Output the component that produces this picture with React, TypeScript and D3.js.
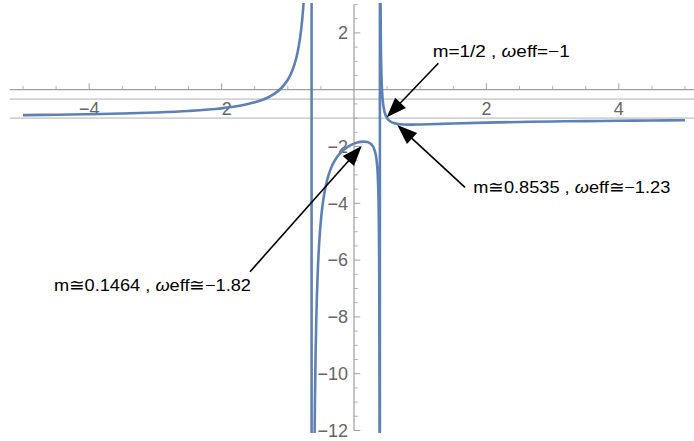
import React from "react";
import * as d3 from "d3";

// ---- data ----
const mValues = [
  -5, -4.5, -4, -3.5, -3, -2.5, -2, -1.75, -1.5, -1.3, -1.2, -1.1, -1.0, -0.95, -0.9, -0.85, -0.8, -0.78, -0.77, -0.76,
  -0.75, -0.72, -0.7, -0.68, -0.66, -0.65, -0.642,
  -0.639, -0.635, -0.63, -0.62, -0.61, -0.6, -0.59, -0.58, -0.57, -0.56, -0.55, -0.53, -0.52, -0.5, -0.475, -0.45,
  -0.4, -0.35, -0.3, -0.25, -0.2, -0.15, -0.1, -0.05, 0, 0.05, 0.1, 0.15, 0.2, 0.25, 0.26, 0.28, 0.3, 0.32, 0.33,
  0.34, 0.35, 0.355, 0.36, 0.365, 0.37, 0.375, 0.38, 0.385, 0.388, 0.3895,
  0.392, 0.395, 0.3975, 0.4, 0.405, 0.41, 0.415, 0.42, 0.425, 0.43, 0.435, 0.44, 0.45, 0.46, 0.47, 0.48, 0.5, 0.52,
  0.55, 0.6, 0.65, 0.7, 0.8, 0.8535, 0.9, 1.0, 1.25, 1.5, 2, 2.5, 3, 3.5, 4, 4.5, 5,
];
const weffValues = [
  -0.895, -0.881, -0.863, -0.838, -0.803, -0.749, -0.654, -0.574, -0.446, -0.274, -0.14, 0.051, 0.35, 0.572, 0.881,
  1.337, 2.079, 2.525, 2.8, 3.121,
  3.5, 5.21, 7.31, 11.5, 24.3, 50.7, 307.8,
  -359.7, -93.4, -48.97, -25.47, -17.43, -13.375, -10.93, -9.29, -8.12, -7.24, -6.56, -5.56, -5.19, -4.6, -4.066,
  -3.672, -3.132, -2.779, -2.532, -2.35, -2.212, -2.104, -2.019, -1.952, -1.9, -1.862, -1.837, -1.829, -1.844, -1.9,
  -1.92, -1.974, -2.059, -2.198, -2.305,
  -2.457, -2.688, -2.852, -3.072, -3.38, -3.84, -4.6, -6.094, -10.37, -21.52, -55.3,
  28.2, 8.9, 5.25, 3.5, 1.799, 0.966, 0.473, 0.146, -0.085, -0.257, -0.39, -0.496, -0.654, -0.765, -0.847, -0.91, -1,
  -1.06, -1.118, -1.173, -1.201, -1.217, -1.229, -1.23, -1.229, -1.225, -1.208, -1.189, -1.159, -1.136, -1.118,
  -1.105, -1.094, -1.085, -1.078,
];
const gridLevels = [-1 / 3, -1];
const xMajorTicks = [-4, -2, 2, 4];
const xTickLabels = ["\u22124", "\u22122", "2", "4"];
const yMajorTicks = [2, -2, -4, -6, -8, -10, -12];
const yTickLabels = ["2", "\u22122", "\u22124", "\u22126", "\u22128", "\u221210", "\u221212"];
const annotationPrefix = ["m=1/2 , ", "m\u22450.8535 , ", "m\u22450.1464 , "];
const annotationSuffix = ["eff=\u22121", "eff\u2245\u22121.23", "eff\u2245\u22121.82"];
// tip / tail / text anchor in data coordinates
const annotationTips = [[0.494, -0.972], [0.654, -1.243], [0.116, -1.982]];
const annotationTails = [[1.274, 0.93], [1.677, -3.437], [-1.571, -6.408]];
const annotationTextAt = [[1.189, 1.162], [1.802, -3.637], [-4.532, -7.077]];
const annotationTextWidth = [137, 197, 197];

const W = 694;
const H = 441;
const FONT = "'Liberation Sans', Arial, sans-serif";

export default function App() {
  const x = d3.scaleLinear().domain([-5.2, 5.2]).range([354 - 5.2 * 66.2, 354 + 5.2 * 66.2]);
  const y = d3.scaleLinear().domain([-12, 3]).range([430.5, 4.5]);

  const pts: [number, number][] = mValues.map((m, i) => [m, weffValues[i]]);
  const line = d3
    .line<[number, number]>()
    .x((d) => x(d[0]))
    .y((d) => y(d[1]))
    .curve(d3.curveMonotoneX);

  const minorX = d3.range(-10, 11).map((k) => k * 0.5).filter((v) => v !== 0 && !xMajorTicks.includes(v));
  const minorY = d3.range(-24, 7).map((k) => k * 0.5).filter((v) => v !== 0 && !yMajorTicks.includes(v));

  const axisColor = "#a0a0a0";
  const labelColor = "#666666";

  const arrow = (i: number) => {
    const [tx, ty] = [x(annotationTips[i][0]), y(annotationTips[i][1])];
    const [sx, sy] = [x(annotationTails[i][0]), y(annotationTails[i][1])];
    const dx = tx - sx, dy = ty - sy;
    const len = Math.hypot(dx, dy);
    const ux = dx / len, uy = dy / len;
    const hl = 20, hw = 7.5;
    const bx = tx - ux * hl, by = ty - uy * hl;
    const px = -uy, py = ux;
    const head = `M${tx},${ty}L${bx + px * hw},${by + py * hw}L${bx - px * hw},${by - py * hw}Z`;
    return (
      <g key={"a" + i}>
        <line x1={sx} y1={sy} x2={bx + ux * 2} y2={by + uy * 2} stroke="#000" strokeWidth={1.6} />
        <path d={head} fill="#000" />
      </g>
    );
  };

  return (
    <svg
      width={W}
      height={H}
      style={{ position: "absolute", left: 0, top: 0, background: "#fff" }}
      fontFamily={FONT}
    >
      <defs>
        <clipPath id="plotClip">
          <rect x={x(-5.2)} y={3} width={W - x(-5.2)} height={430} />
        </clipPath>
      </defs>
      <rect width={W} height={H} fill="#fff" />
      {gridLevels.map((g) => (
        <line key={"g" + g} x1={x(-5.2)} x2={W} y1={y(g)} y2={y(g)} stroke="#d2d2d2" strokeWidth={1.6} />
      ))}
      {/* axes */}
      <line x1={x(-5.2)} x2={W} y1={y(0)} y2={y(0)} stroke={axisColor} strokeWidth={1.2} />
      <line x1={x(0)} x2={x(0)} y1={y(3)} y2={y(-12)} stroke={axisColor} strokeWidth={1.2} />
      {xMajorTicks.map((t) => (
        <line key={"xt" + t} x1={x(t)} x2={x(t)} y1={y(0)} y2={y(0) - 6.3} stroke={axisColor} strokeWidth={1} />
      ))}
      {minorX.map((t) => (
        <line key={"xm" + t} x1={x(t)} x2={x(t)} y1={y(0)} y2={y(0) - 3.8} stroke={axisColor} strokeWidth={0.8} />
      ))}
      {yMajorTicks.map((t) => (
        <line key={"yt" + t} x1={x(0)} x2={x(0) + 6.3} y1={y(t)} y2={y(t)} stroke={axisColor} strokeWidth={1} />
      ))}
      {minorY.map((t) => (
        <line key={"ym" + t} x1={x(0)} x2={x(0) + 3.8} y1={y(t)} y2={y(t)} stroke={axisColor} strokeWidth={0.8} />
      ))}
      {xMajorTicks.map((t, i) => (
        <text key={"xl" + t} x={x(t)} y={y(0) + 25.5} textAnchor="middle" fontSize={18} fill={labelColor}>
          {xTickLabels[i]}
        </text>
      ))}
      {yMajorTicks.map((t, i) => (
        <text key={"yl" + t} x={x(0) - 6} y={y(t) + 6.3} textAnchor="end" fontSize={18} fill={labelColor}>
          {yTickLabels[i]}
        </text>
      ))}
      <path
        d={line(pts) || ""}
        fill="none"
        stroke="#5e81b5"
        strokeWidth={2.6}
        clipPath="url(#plotClip)"
        strokeLinejoin="round"
      />
      {annotationTips.map((_, i) => arrow(i))}
      {annotationPrefix.map((p, i) => (
        <text
          key={"t" + i}
          x={x(annotationTextAt[i][0])}
          y={y(annotationTextAt[i][1])}
          fontSize={16.5}
          fill="#000"
          textLength={annotationTextWidth[i]}
          lengthAdjust="spacingAndGlyphs"
        >
          {p}
          <tspan fontStyle="italic">{"\u03c9"}</tspan>
          {annotationSuffix[i]}
        </text>
      ))}
    </svg>
  );
}
